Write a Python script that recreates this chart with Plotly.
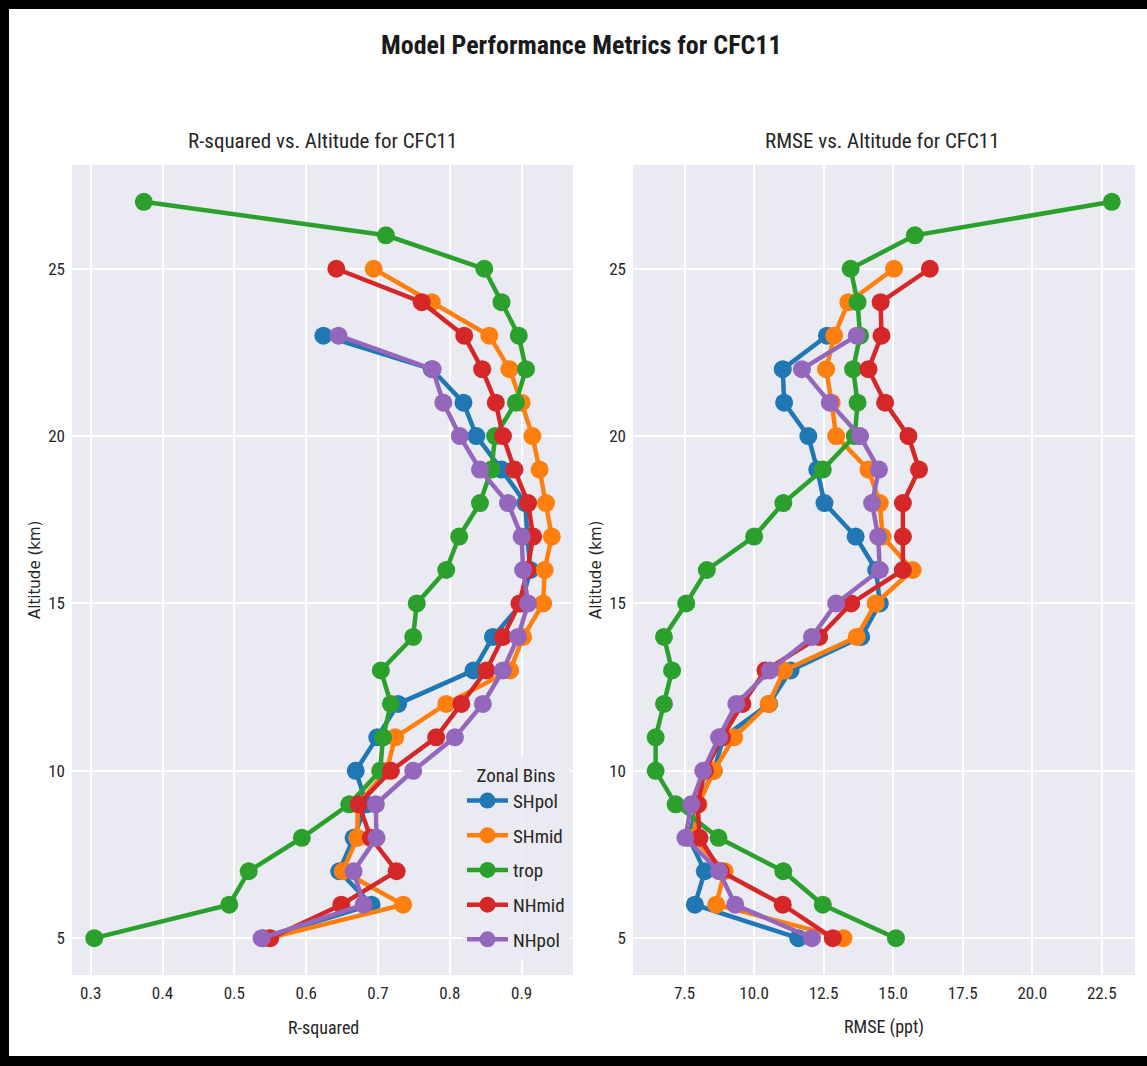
import plotly.graph_objects as go

# Altitude levels (km) used by each zonal bin
alt_trop = list(range(5, 28))
alt_mid = list(range(5, 26))
alt_pol = list(range(5, 24))

zonal_bins = ["SHpol", "SHmid", "trop", "NHmid", "NHpol"]
bin_colors = ["#1f77b4", "#ff7f0e", "#2ca02c", "#d62728", "#9467bd"]

# R-squared by altitude
r2_shpol = [0.540, 0.691, 0.646, 0.666, 0.684, 0.669, 0.699, 0.728, 0.833, 0.860,
            0.900, 0.912, 0.908, 0.905, 0.872, 0.837, 0.819, 0.775, 0.624]
r2_shmid = [0.548, 0.735, 0.651, 0.671, 0.672, 0.712, 0.724, 0.795, 0.884, 0.902,
            0.930, 0.932, 0.942, 0.934, 0.925, 0.915, 0.900, 0.883, 0.855, 0.775, 0.694]
r2_trop = [0.305, 0.493, 0.520, 0.594, 0.660, 0.703, 0.707, 0.718, 0.704, 0.749,
           0.754, 0.795, 0.813, 0.842, 0.858, 0.863, 0.892, 0.906, 0.896, 0.872,
           0.848, 0.711, 0.374]
r2_nhmid = [0.550, 0.649, 0.726, 0.690, 0.673, 0.718, 0.781, 0.816, 0.851, 0.874,
            0.897, 0.908, 0.916, 0.909, 0.890, 0.874, 0.864, 0.845, 0.820, 0.761, 0.642]
r2_nhpol = [0.538, 0.680, 0.666, 0.698, 0.697, 0.749, 0.807, 0.846, 0.874, 0.895,
            0.909, 0.902, 0.900, 0.881, 0.842, 0.814, 0.791, 0.776, 0.645]

# RMSE (ppt) by altitude
rmse_shpol = [11.59, 7.87, 8.23, 7.65, 7.97, 8.55, 8.90, 10.54, 11.31, 13.85,
              14.52, 14.39, 13.65, 12.53, 12.27, 11.95, 11.08, 11.03, 12.62]
rmse_shmid = [13.21, 8.64, 8.94, 7.80, 8.00, 8.55, 9.28, 10.52, 11.08, 13.69,
              14.37, 15.70, 14.62, 14.52, 14.11, 12.95, 12.79, 12.59, 12.88, 13.39, 15.03]
rmse_trop = [15.10, 12.47, 11.05, 8.72, 7.18, 6.46, 6.46, 6.76, 7.05, 6.76,
             7.56, 8.30, 10.00, 11.05, 12.47, 13.62, 13.72, 13.56, 13.81, 13.72,
             13.47, 15.78, 22.86]
rmse_nhmid = [12.83, 11.03, 8.80, 8.04, 7.97, 8.23, 8.85, 9.58, 10.41, 12.34,
              13.49, 15.35, 15.35, 15.35, 15.93, 15.55, 14.71, 14.11, 14.58, 14.55, 16.32]
rmse_nhpol = [12.08, 9.32, 8.74, 7.53, 7.74, 8.17, 8.74, 9.36, 10.57, 12.08,
              12.95, 14.52, 14.46, 14.24, 14.49, 13.81, 12.72, 11.72, 13.69]

r2_series = [r2_shpol, r2_shmid, r2_trop, r2_nhmid, r2_nhpol]
rmse_series = [rmse_shpol, rmse_shmid, rmse_trop, rmse_nhmid, rmse_nhpol]
alt_series = [alt_pol, alt_mid, alt_trop, alt_mid, alt_pol]

r2_ticks = [0.3, 0.4, 0.5, 0.6, 0.7, 0.8, 0.9]
rmse_ticks = [7.5, 10.0, 12.5, 15.0, 17.5, 20.0, 22.5]
alt_ticks = [5, 10, 15, 20, 25]

W, H = 1147, 1066
NARROW = "Liberation Sans Narrow, Arial Narrow, Roboto Condensed, Liberation Sans, sans-serif"
TEXT = "#262626"
BG = "#EAEAF2"


def px(x):
    return x / W


def py(y):
    return 1 - y / H


fig = go.Figure()

for name, color, alts, r2, rmse in zip(zonal_bins, bin_colors, alt_series, r2_series, rmse_series):
    style = dict(mode="lines+markers", line=dict(color=color, width=4.5),
                 marker=dict(color=color, size=18), legendgroup=name)
    fig.add_trace(go.Scatter(x=r2, y=alts, name=name, xaxis="x", yaxis="y",
                             showlegend=True, **style))
    fig.add_trace(go.Scatter(x=rmse, y=alts, name=name, xaxis="x2", yaxis="y2",
                             showlegend=False, **style))

axis_common = dict(showgrid=True, gridcolor="white", gridwidth=2, zeroline=False,
                   showline=False, ticks="", ticklabelstandoff=6,
                   tickfont=dict(family=NARROW, size=17, color=TEXT))

fig.update_layout(
    width=W, height=H,
    margin=dict(l=0, r=0, t=0, b=0),
    paper_bgcolor="white",
    plot_bgcolor=BG,
    showlegend=True,
    xaxis=dict(domain=[px(72), px(573)], range=[0.274, 0.9715], tickvals=r2_ticks,
               ticktext=[f"{v:.1f}" for v in r2_ticks], anchor="y", **axis_common),
    yaxis=dict(domain=[py(975), py(165)], range=[3.9, 28.1], tickvals=alt_ticks,
               anchor="x", **axis_common),
    xaxis2=dict(domain=[px(633), px(1135)], range=[5.646, 23.695], tickvals=rmse_ticks,
                ticktext=[f"{v:.1f}" for v in rmse_ticks], anchor="y2", **axis_common),
    yaxis2=dict(domain=[py(975), py(165)], range=[3.9, 28.1], tickvals=alt_ticks,
                anchor="x2", **axis_common),
    legend=dict(
        title=dict(text="Zonal Bins", font=dict(family=NARROW, size=19, color=TEXT), side="top center"),
        font=dict(family=NARROW, size=19, color=TEXT),
        x=px(462), y=py(757), xanchor="left", yanchor="top",
        bgcolor="rgba(234,234,242,0.85)", borderwidth=0,
        tracegroupgap=7, itemwidth=41,
    ),
)

annotations = [
    dict(text="<b>Model Performance Metrics for CFC11</b>", x=px(581), y=py(45),
         font=dict(family=NARROW, size=26, color="#1a1a1a")),
    dict(text="R-squared vs. Altitude for CFC11", x=px(322), y=py(141),
         font=dict(family=NARROW, size=21, color=TEXT)),
    dict(text="RMSE vs. Altitude for CFC11", x=px(882), y=py(141),
         font=dict(family=NARROW, size=21, color=TEXT)),
    dict(text="R-squared", x=px(323), y=py(1027),
         font=dict(family=NARROW, size=18, color=TEXT)),
    dict(text="RMSE (ppt)", x=px(884), y=py(1027),
         font=dict(family=NARROW, size=18, color=TEXT)),
    dict(text="Altitude (km)", x=px(35), y=py(570), textangle=-90,
         font=dict(family="DejaVu Sans", size=15, color=TEXT)),
    dict(text="Altitude (km)", x=px(596), y=py(570), textangle=-90,
         font=dict(family="DejaVu Sans", size=15, color=TEXT)),
]
for a in annotations:
    a.update(xref="paper", yref="paper", showarrow=False, xanchor="center", yanchor="middle")
fig.update_layout(annotations=annotations)

# Black frame around the figure
frame = [
    (0, 0, W, 9),
    (0, 0, 9, H),
    (0, 1056, W, H),
]
fig.update_layout(shapes=[
    dict(type="rect", xref="paper", yref="paper", x0=px(x0), x1=px(x1), y0=py(y1), y1=py(y0),
         fillcolor="black", line=dict(width=0), layer="above")
    for x0, y0, x1, y1 in frame
])

fig.write_html("out.html")
